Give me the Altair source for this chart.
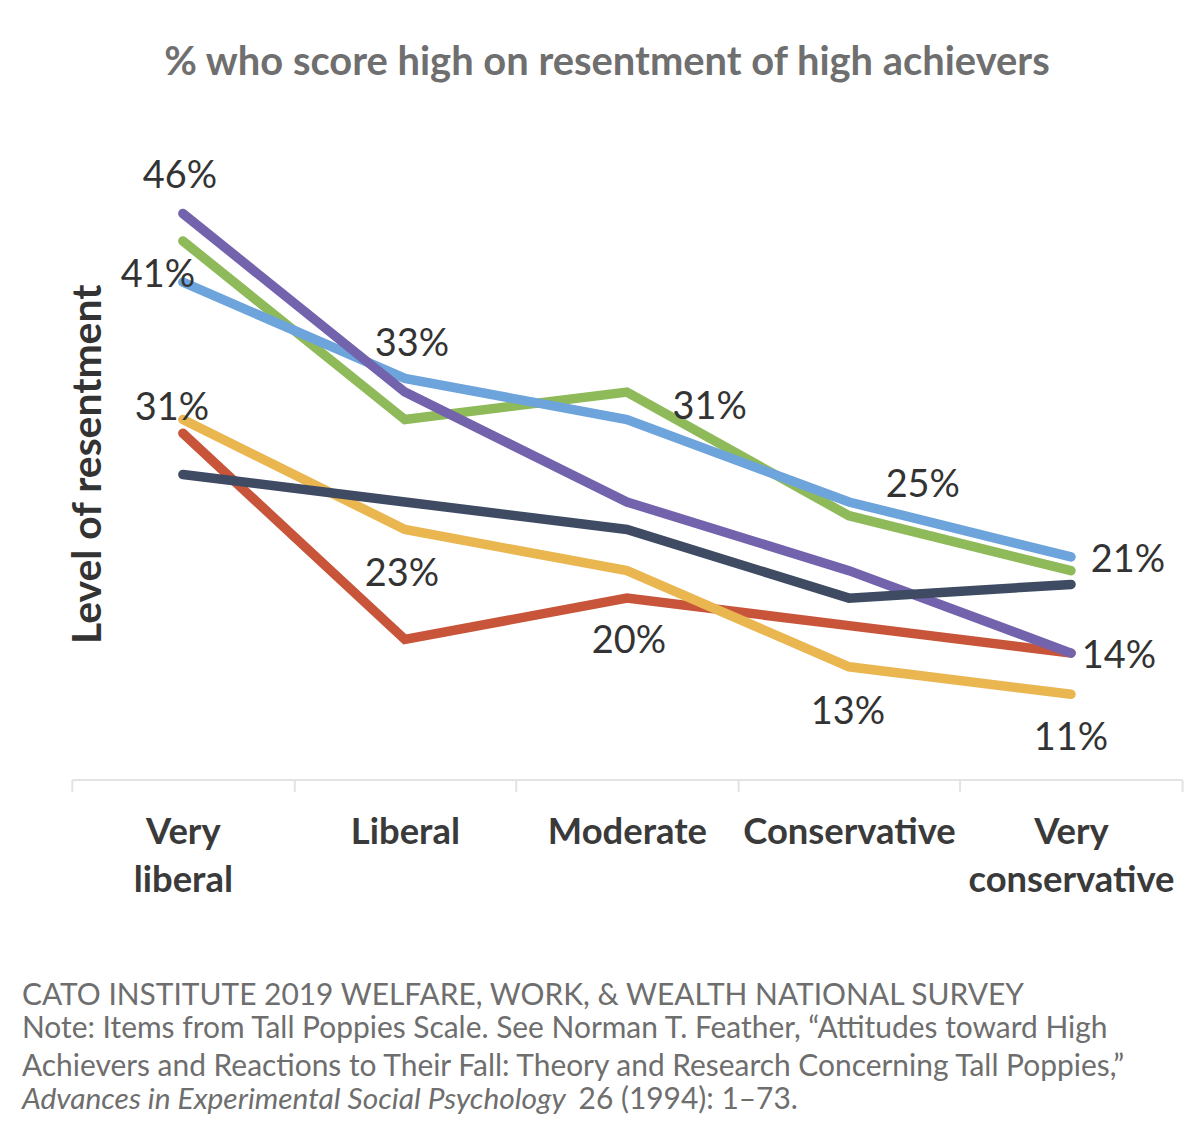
import altair as alt
import pandas as pd

# ---------------- data ----------------
categories = ["Very liberal", "Liberal", "Moderate", "Conservative", "Very conservative"]

# draw order (bottom -> top)
series_names = ["Item A", "Item B", "Item C", "Item D", "Item E", "Item F"]
series_colors = ["#c8553a", "#e9b650", "#8fba5a", "#6da4db", "#7363ad", "#3f4b63"]

item_a = [30, 15, 18, 16, 14]   # red
item_b = [31, 23, 20, 13, 11]   # yellow
item_c = [44, 31, 33, 24, 20]   # green
item_d = [41, 34, 31, 25, 21]   # blue
item_e = [46, 33, 25, 20, 14]   # purple
item_f = [27, 25, 23, 18, 19]   # navy
series_values = [item_a, item_b, item_c, item_d, item_e, item_f]

# data labels shown on the chart
label_cats = ["Very liberal", "Very liberal", "Very liberal", "Liberal", "Liberal",
              "Moderate", "Moderate", "Conservative", "Conservative",
              "Very conservative", "Very conservative", "Very conservative"]
label_vals = [46, 41, 31, 33, 23, 31, 20, 25, 13, 21, 14, 11]
# label placement offsets in pixels (dx, dy)
label_offsets = [(-3, -37), (-25, -6), (-11, -11), (7, -47), (-3, 46),
                 (83, -12), (2, 72), (74, -16), (-1, 46),
                 (57, 4), (48, 4), (0, 45)]

title_text = "% who score high on resentment of high achievers"
y_title = "Level of resentment"
footer_lines = [
    "CATO INSTITUTE 2019 WELFARE, WORK, & WEALTH NATIONAL SURVEY",
    "Note: Items from Tall Poppies Scale. See Norman T. Feather, \u201cAttitudes toward High",
    "Achievers and Reactions to Their Fall: Theory and Research Concerning Tall Poppies,\u201d",
]
footer_italic = "Advances in Experimental Social Psychology"
footer_tail = "26 (1994): 1\u201373."

# ---------------- chart ----------------
W, H = 1113, 650
band = alt.Scale(type="band", domain=categories, paddingInner=0, paddingOuter=0)
x_enc = alt.X(
    "category:N",
    sort=categories,
    bandPosition=0.5,
    scale=band,
    axis=alt.Axis(
        title=None, labelAngle=0, labelFont="Lato", labelFontWeight="bold",
        labelFontSize=36.5, labelColor="#3a3a3a", labelExpr="split(datum.label, ' ')",
        labelLineHeight=48, labelPadding=23, labelBaseline="top", labelLimit=400,
        labelOverlap=False, tickBand="extent", tickSize=12, tickColor="#e3e3e3",
        tickWidth=2, domainColor="#e3e3e3", domainWidth=2, grid=False,
    ),
)
y_scale = alt.Scale(domain=[4.8, 52], nice=False, zero=False)

layers = []
for name, color, vals in zip(series_names, series_colors, series_values):
    df = pd.DataFrame({"category": categories, "value": vals, "series": name})
    layers.append(
        alt.Chart(df).mark_line(color=color, strokeWidth=9.5, strokeCap="round").encode(
            x=x_enc,
            y=alt.Y("value:Q", scale=y_scale, axis=None),
        )
    )

for cat, val, (dx, dy) in zip(label_cats, label_vals, label_offsets):
    df = pd.DataFrame({"category": [cat], "value": [val], "label": [f"{val}%"]})
    layers.append(
        alt.Chart(df).mark_text(
            font="Lato", fontSize=38, color="#333333", align="center",
            baseline="middle", dx=dx, dy=dy,
        ).encode(
            x=alt.X("category:N", sort=categories, bandPosition=0.5, scale=band),
            y=alt.Y("value:Q", scale=y_scale),
            text="label:N",
        )
    )

# y-axis title
layers.append(
    alt.Chart(pd.DataFrame({"t": [y_title]})).mark_text(
        font="Lato", fontWeight="bold", fontSize=41, color="#333333",
        angle=270, align="center", baseline="middle",
    ).encode(x=alt.value(17), y=alt.value(334), text="t:N")
)

# footer
footer_y = [867, 900, 938]
for line, yy in zip(footer_lines, footer_y):
    layers.append(
        alt.Chart(pd.DataFrame({"t": [line]})).mark_text(
            font="Lato", fontSize=30, color="#6e6e6e", align="left", baseline="middle",
        ).encode(x=alt.value(-50), y=alt.value(yy), text="t:N")
    )
layers.append(
    alt.Chart(pd.DataFrame({"t": [footer_italic]})).mark_text(
        font="Lato", fontSize=30, fontStyle="italic", color="#6e6e6e",
        align="left", baseline="middle",
    ).encode(x=alt.value(-50), y=alt.value(971), text="t:N")
)
layers.append(
    alt.Chart(pd.DataFrame({"t": [footer_tail]})).mark_text(
        font="Lato", fontSize=30, color="#6e6e6e", align="left", baseline="middle",
    ).encode(x=alt.value(508), y=alt.value(971), text="t:N")
)

chart = alt.layer(*layers).properties(
    width=W,
    height=H,
    title=alt.TitleParams(
        title_text, font="Lato", fontWeight="bold", fontSize=40, color="#6f6f6f",
        anchor="middle", dx=-20, offset=48,
    ),
    autosize=alt.AutoSizeParams(type="none"),
    padding={"left": 64, "top": 122, "right": 10, "bottom": 345},
).configure_view(stroke=None)

chart.save("out.html", embed_options={"renderer": "svg", "actions": False})
